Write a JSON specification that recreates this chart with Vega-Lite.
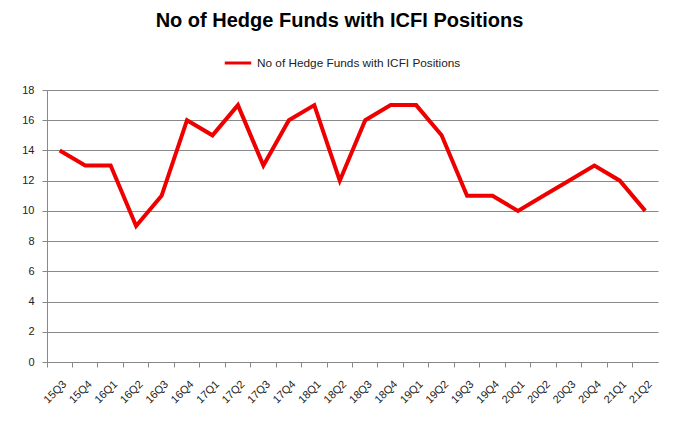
{
  "$schema": "https://vega.github.io/schema/vega-lite/v6.json",
  "width": 611,
  "height": 272,
  "autosize": {"type": "none"},
  "padding": {"left": 47, "top": 90, "right": 22, "bottom": 71},
  "background": "white",
  "title": {
    "text": "No of Hedge Funds with ICFI Positions",
    "font": "Liberation Sans",
    "fontSize": 20,
    "fontWeight": "bold",
    "color": "#000000",
    "anchor": "middle",
    "frame": "group",
    "dx": -13,
    "offset": 17
  },
  "data": {
    "values": [
      {"q": "15Q3", "v": 14, "s": "No of Hedge Funds with ICFI Positions"},
      {"q": "15Q4", "v": 13, "s": "No of Hedge Funds with ICFI Positions"},
      {"q": "16Q1", "v": 13, "s": "No of Hedge Funds with ICFI Positions"},
      {"q": "16Q2", "v": 9, "s": "No of Hedge Funds with ICFI Positions"},
      {"q": "16Q3", "v": 11, "s": "No of Hedge Funds with ICFI Positions"},
      {"q": "16Q4", "v": 16, "s": "No of Hedge Funds with ICFI Positions"},
      {"q": "17Q1", "v": 15, "s": "No of Hedge Funds with ICFI Positions"},
      {"q": "17Q2", "v": 17, "s": "No of Hedge Funds with ICFI Positions"},
      {"q": "17Q3", "v": 13, "s": "No of Hedge Funds with ICFI Positions"},
      {"q": "17Q4", "v": 16, "s": "No of Hedge Funds with ICFI Positions"},
      {"q": "18Q1", "v": 17, "s": "No of Hedge Funds with ICFI Positions"},
      {"q": "18Q2", "v": 12, "s": "No of Hedge Funds with ICFI Positions"},
      {"q": "18Q3", "v": 16, "s": "No of Hedge Funds with ICFI Positions"},
      {"q": "18Q4", "v": 17, "s": "No of Hedge Funds with ICFI Positions"},
      {"q": "19Q1", "v": 17, "s": "No of Hedge Funds with ICFI Positions"},
      {"q": "19Q2", "v": 15, "s": "No of Hedge Funds with ICFI Positions"},
      {"q": "19Q3", "v": 11, "s": "No of Hedge Funds with ICFI Positions"},
      {"q": "19Q4", "v": 11, "s": "No of Hedge Funds with ICFI Positions"},
      {"q": "20Q1", "v": 10, "s": "No of Hedge Funds with ICFI Positions"},
      {"q": "20Q2", "v": 11, "s": "No of Hedge Funds with ICFI Positions"},
      {"q": "20Q3", "v": 12, "s": "No of Hedge Funds with ICFI Positions"},
      {"q": "20Q4", "v": 13, "s": "No of Hedge Funds with ICFI Positions"},
      {"q": "21Q1", "v": 12, "s": "No of Hedge Funds with ICFI Positions"},
      {"q": "21Q2", "v": 10, "s": "No of Hedge Funds with ICFI Positions"}
    ]
  },
  "mark": {"type": "line", "strokeWidth": 4, "strokeJoin": "miter"},
  "encoding": {
    "x": {
      "field": "q",
      "type": "ordinal",
      "sort": null,
      "scale": {"type": "band", "paddingInner": 0, "paddingOuter": 0},
      "axis": {
        "title": null,
        "labelAngle": -45,
        "labelFont": "Liberation Sans",
        "labelFontSize": 11,
        "labelColor": "#222222",
        "bandPosition": 0,
        "labelOffset": 1,
        "labelPadding": 11,
        "tickColor": "#888888",
        "tickSize": 5,
        "domainColor": "#888888",
        "grid": false
      }
    },
    "y": {
      "field": "v",
      "type": "quantitative",
      "scale": {"domain": [0, 18]},
      "axis": {
        "title": null,
        "values": [0, 2, 4, 6, 8, 10, 12, 14, 16, 18],
        "labelFont": "Liberation Sans",
        "labelFontSize": 11,
        "labelColor": "#222222",
        "labelPadding": 8,
        "tickColor": "#888888",
        "tickSize": 5,
        "domainColor": "#888888",
        "gridColor": "#888888",
        "gridOpacity": 1
      }
    },
    "color": {
      "field": "s",
      "type": "nominal",
      "scale": {"range": ["#ee0000"]},
      "legend": {
        "title": null,
        "orient": "none",
        "legendX": 176,
        "legendY": -42,
        "symbolType": "stroke",
        "symbolStrokeWidth": 3,
        "symbolSize": 700,
        "labelLimit": 0,
        "labelOffset": 4,
        "labelFont": "Liberation Sans",
        "labelFontSize": 11.8,
        "labelColor": "#222222"
      }
    }
  },
  "config": {"view": {"stroke": null}}
}
